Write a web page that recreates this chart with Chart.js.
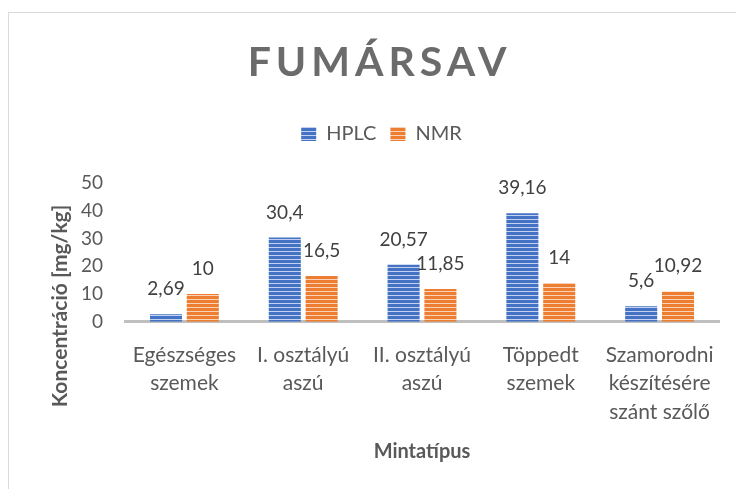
<!DOCTYPE html>
<html>
<head>
<meta charset="utf-8">
<script src="https://cdn.jsdelivr.net/npm/chart.js@4.4.1/dist/chart.umd.min.js"></script>
<style>
html,body{margin:0;padding:0;background:#fff;}
canvas{display:block;}
</style>
</head>
<body>
<canvas id="c" width="736" height="489"></canvas>
<script>
// ---- data ----
const categories = [
  ["Egészséges", "szemek"],
  ["I. osztályú", "aszú"],
  ["II. osztályú", "aszú"],
  ["Töppedt", "szemek"],
  ["Szamorodni", "készítésére", "szánt szőlő"]
];
const hplcValues = [2.69, 30.4, 20.57, 39.16, 5.6];
const nmrValues = [10, 16.5, 11.85, 14, 10.92];
const seriesNames = ["HPLC", "NMR"];
const chartTitle = "FUMÁRSAV";
const yAxisTitle = "Koncentráció [mg/kg]";
const xAxisTitle = "Mintatípus";
const yTicks = [0, 10, 20, 30, 40, 50];

const FONT = "Lato, 'Open Sans', sans-serif";

function stripes(base, light) {
  const c = document.createElement('canvas');
  c.width = 4; c.height = 4;
  const g = c.getContext('2d');
  g.fillStyle = base; g.fillRect(0, 0, 4, 4);
  g.fillStyle = light; g.fillRect(0, 3, 4, 1);
  return g.createPattern(c, 'repeat');
}
const ctx = document.getElementById('c').getContext('2d');
const bluePat = stripes('#4472C4', '#c3d1ee');
const orangePat = stripes('#ED7D31', '#f9d2b8');

const fmt = v => String(v).replace('.', ',');

const decor = {
  id: 'decor',
  beforeLayout(chart) {
    const lg = chart.legend;
    if (lg && !lg._patched) {
      const orig = lg.fit;
      lg.fit = function () {
        orig.call(this);
        this.height = 183.3 - 110;
      };
      lg._patched = true;
    }
  },
  afterLayout(chart) {
    const lg = chart.legend;
    if (lg) { lg.left += 22; lg.right += 22; }
  },
  beforeDraw(chart) {
    const c = chart.ctx;
    c.save();
    c.strokeStyle = '#d9d9d9';
    c.lineWidth = 1;
    c.beginPath();
    c.moveTo(8, 12.5); c.lineTo(736, 12.5);
    c.moveTo(8.5, 12); c.lineTo(8.5, 489);
    c.stroke();
    c.restore();
  },
  afterDraw(chart) {
    const c = chart.ctx;
    const area = chart.chartArea;
    c.save();
    // title
    c.fillStyle = '#6b6b6b';
    c.font = "bold 41px " + FONT;
    const sp = 5;
    c.letterSpacing = sp + 'px';
    c.textAlign = 'left';
    c.textBaseline = 'alphabetic';
    const w = c.measureText(chartTitle).width - sp;
    c.fillText(chartTitle, 377 - w / 2, 76);
    c.letterSpacing = '0px';
    // x axis title
    c.fillStyle = '#595959';
    c.font = "bold 20px " + FONT;
    c.textAlign = 'center';
    c.fillText(xAxisTitle, (area.left + area.right) / 2, 458);
    // y axis title
    c.translate(67, 306);
    c.rotate(-Math.PI / 2);
    c.font = "bold 21px " + FONT;
    c.fillText(yAxisTitle, 0, 0);
    c.restore();
  },
  afterDatasetsDraw(chart) {
    const c = chart.ctx;
    c.save();
    c.fillStyle = '#404040';
    c.font = "19px " + FONT;
    c.textAlign = 'center';
    c.textBaseline = 'alphabetic';
    chart.data.datasets.forEach((ds, i) => {
      const meta = chart.getDatasetMeta(i);
      meta.data.forEach((bar, j) => {
        c.fillText(fmt(ds.data[j]), bar.x, bar.y - 19);
      });
    });
    c.restore();
  }
};

new Chart(ctx, {
  type: 'bar',
  data: {
    labels: categories,
    datasets: [
      { label: seriesNames[0], data: hplcValues, backgroundColor: bluePat, borderWidth: 0 },
      { label: seriesNames[1], data: nmrValues, backgroundColor: orangePat, borderWidth: 0 }
    ]
  },
  options: {
    responsive: false,
    animation: false,
    layout: { padding: { top: 110, left: 0, right: 17, bottom: 0 } },
    datasets: { bar: { categoryPercentage: 0.62, barPercentage: 0.87 } },
    plugins: {
      title: { display: false },
      tooltip: { enabled: false },
      legend: {
        display: true,
        position: 'top',
        labels: {
          boxWidth: 15,
          boxHeight: 14,
          padding: 14,
          color: '#595959',
          font: { family: FONT, size: 20 }
        }
      }
    },
    scales: {
      x: {
        grid: { display: false, drawTicks: false },
        border: { display: true, color: '#BFBFBF', width: 3 },
        ticks: {
          color: '#595959',
          font: { family: FONT, size: 21, lineHeight: 1.36 },
          padding: 19,
          maxRotation: 0,
          autoSkip: false
        },
        afterFit(s) { s.height = 489 - 321.7; }
      },
      y: {
        min: 0, max: 50,
        afterBuildTicks(s) { s.ticks = yTicks.map(v => ({ value: v })); },
        grid: { display: false, drawTicks: false },
        border: { display: false },
        ticks: {
          color: '#595959',
          font: { family: FONT, size: 19 },
          padding: 22
        },
        afterFit(s) { s.width = 125; }
      }
    }
  },
  plugins: [decor]
});
</script>
</body>
</html>
